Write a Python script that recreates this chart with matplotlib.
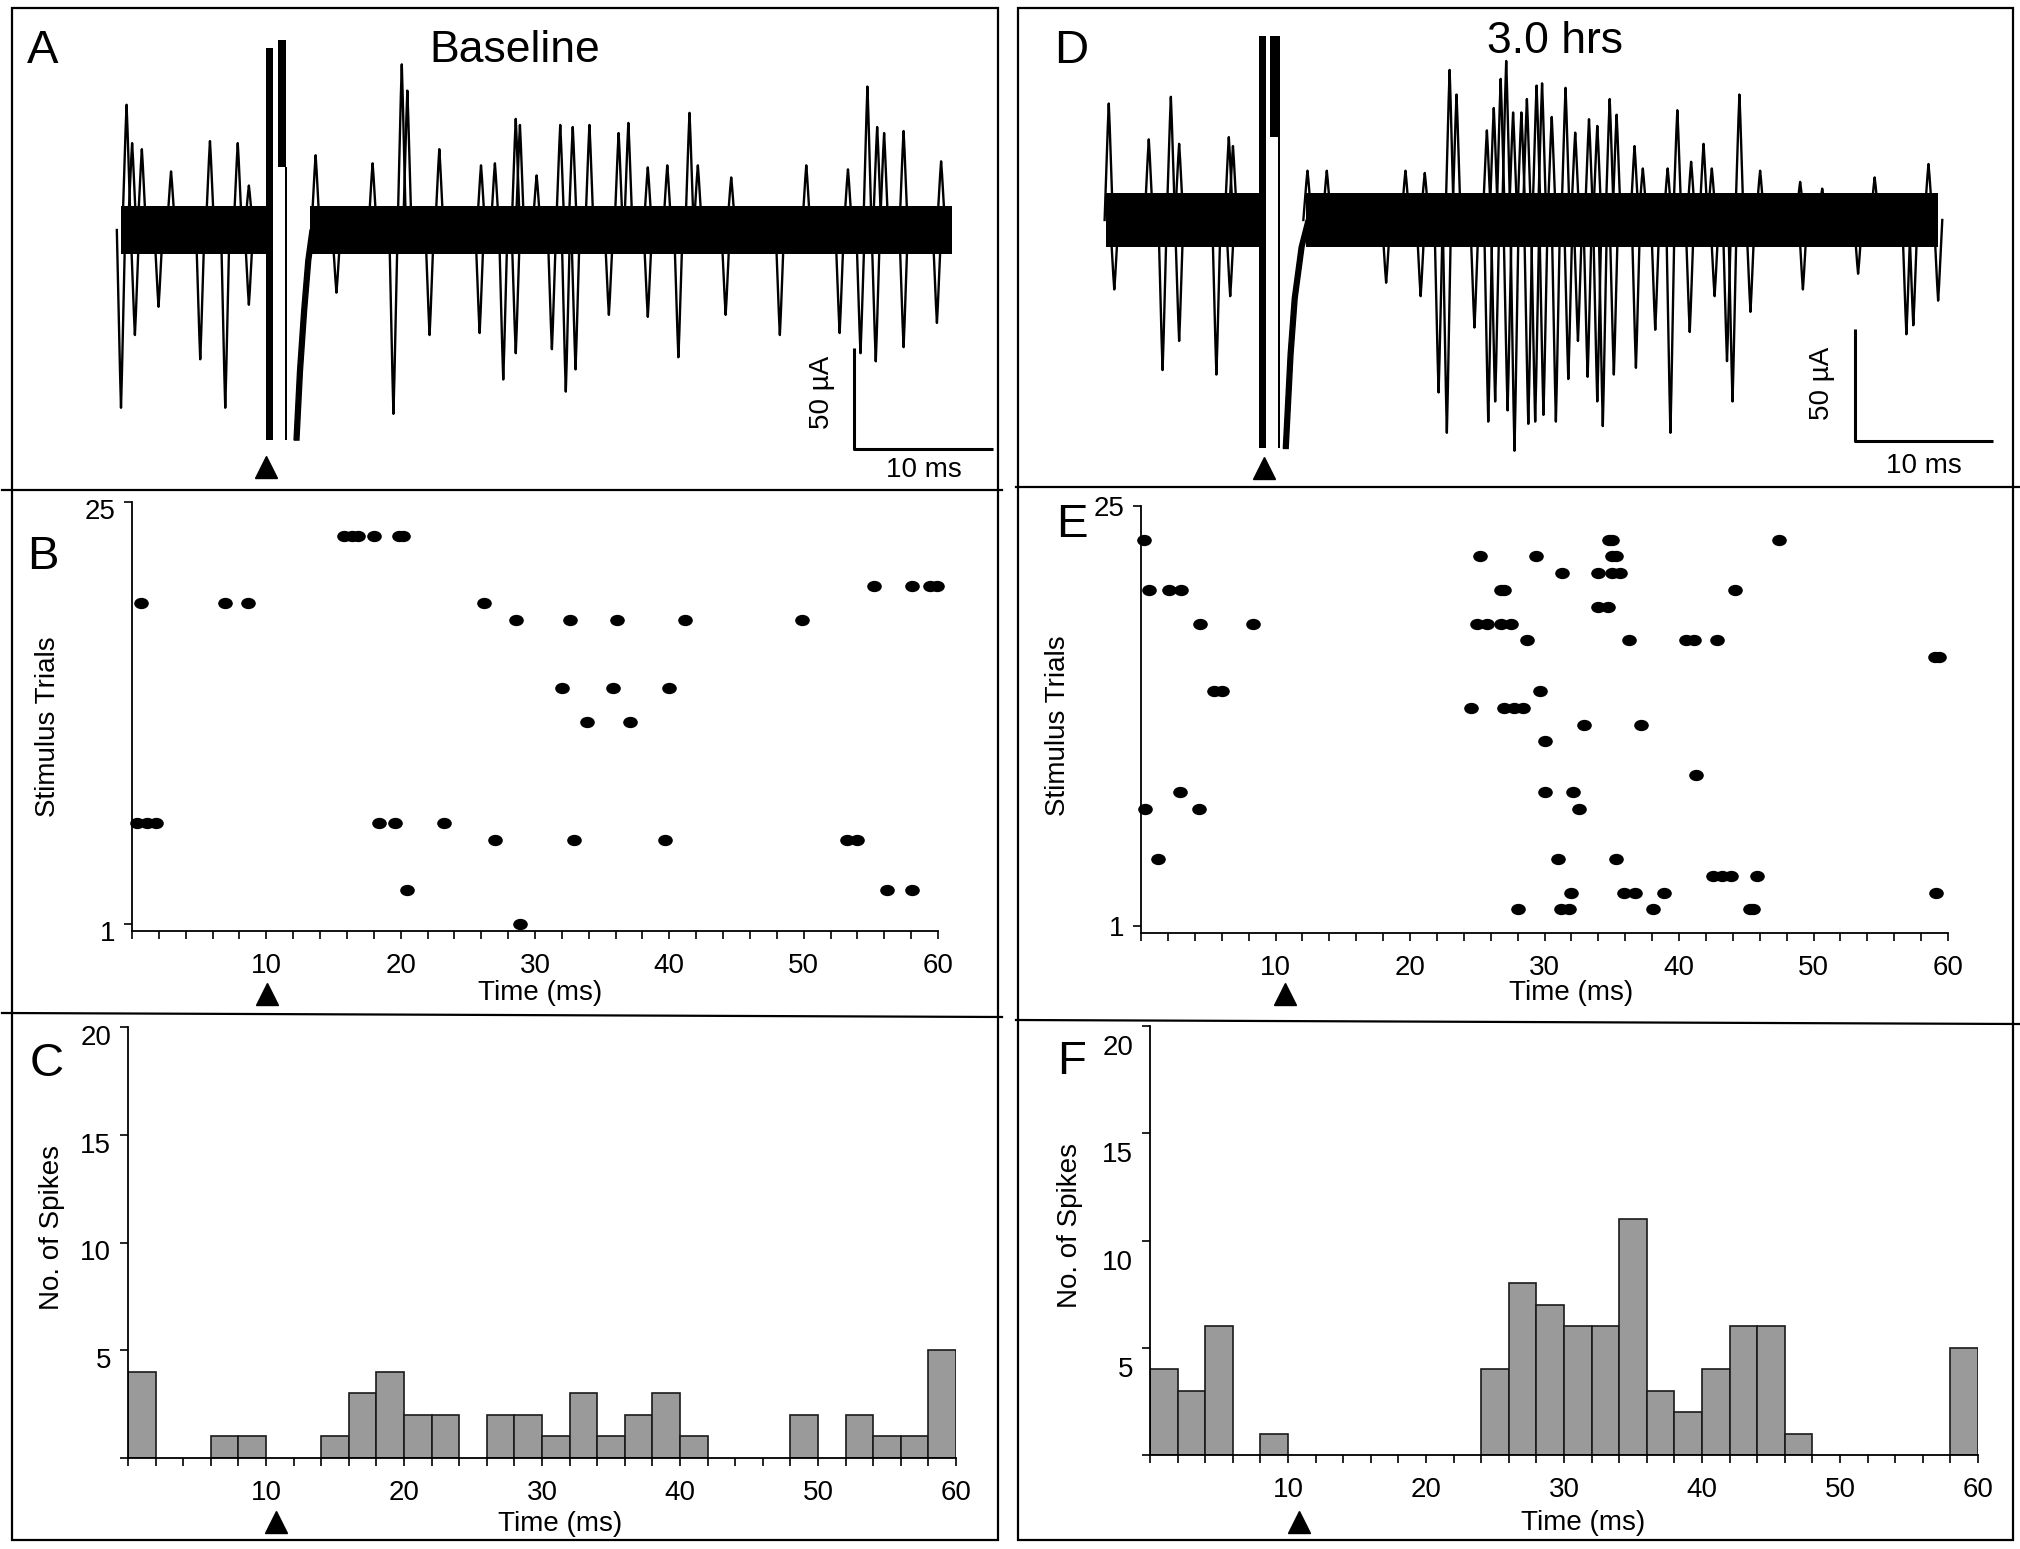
import numpy as np
from matplotlib import pyplot as plt
from matplotlib.path import Path
from matplotlib.transforms import Affine2D, ScaledTranslation
from matplotlib.lines import Line2D
from matplotlib.patches import Rectangle
from matplotlib.ticker import MultipleLocator

plt.rcParams['font.family'] = ['Liberation Sans', 'DejaVu Sans']

##############################
### ----- data (read) ----- ###
##############################

# A : baseline traces, spike peaks  (time ms, amplitude uA)
a_up_t = [0.4, 0.8, 1.5, 3.6, 6.4, 8.4, 9.2, 14.0, 18.1, 20.2, 20.6, 22.9, 25.9, 26.9, 28.4, 28.7,
          29.9, 31.6, 32.5, 33.7, 35.8, 36.5, 37.9, 39.3, 40.9, 41.5, 43.9, 49.3, 52.3, 53.7, 54.4,
          54.9, 56.3, 59.0]
a_up_v = [62, 43, 40, 29, 44, 43, 22, 37, 33, 82, 69, 40, 32, 33, 55, 52,
          27, 52, 51, 52, 48, 53, 31, 32, 58, 32, 26, 32, 30, 71, 51,
          48, 49, 34]
a_dn_t = [0.0, 1.0, 2.7, 5.7, 7.5, 9.2, 15.5, 19.6, 22.2, 25.8, 27.5, 28.4, 31.0, 32.0, 32.7,
          35.1, 37.9, 40.1, 43.5, 47.4, 51.7, 53.2, 54.3, 56.3, 58.7]
a_dn_v = [-88, -52, -38, -64, -88, -37, -31, -91, -52, -51, -74, -61, -59, -80, -69,
          -42, -43, -63, -42, -52, -51, -61, -65, -58, -46]
a_band = [(0.0, 10.45), (13.6, 59.8)]      # spans of the dense baseline noise
a_noise = 12                                # half width of the noise band, uA
a_bars = [(10.45, 10.95, 90, -104), (11.3, 11.9, 94, 31), (11.8, 11.95, 31, -104)]
a_rec_t = [12.45, 12.7, 13.0, 13.3, 13.6]
a_rec_v = [-104, -70, -40, -15, 0]

# D : 3.0 hrs traces
d_up_t = [0.2, 3.1, 4.7, 5.3, 8.9, 9.2, 14.6, 16.0, 21.7, 23.1, 24.9, 25.4, 27.6, 28.1, 28.6, 29.0,
          29.5, 30.1, 30.5, 31.2, 31.6, 32.3, 33.3, 34.0, 35.0, 35.6, 36.5, 37.0, 38.3, 38.9, 40.7,
          41.4, 42.4, 43.3, 43.9, 45.9, 47.4, 50.3, 51.9, 55.7, 59.6]
d_up_v = [52, 36, 55, 34, 37, 33, 22, 22, 22, 21, 67, 56, 40, 50, 63, 71,
          48, 48, 54, 60, 61, 46, 59, 39, 45, 42, 54, 47, 33, 23, 23,
          49, 26, 34, 23, 56, 22, 17, 14, 19, 25]
d_dn_t = [0.6, 4.1, 5.3, 8.0, 9.0, 20.3, 22.8, 24.1, 24.7, 26.7, 27.7, 28.2, 29.1, 29.6, 30.6,
          31.1, 31.7, 32.6, 33.5, 34.2, 34.9, 35.6, 36.0, 36.8, 38.4, 39.8, 40.9, 42.3, 44.1,
          45.0, 45.4, 46.7, 50.5, 54.5, 58.0, 58.5, 60.3]
d_dn_v = [-31, -67, -54, -69, -34, -28, -34, -77, -95, -48, -90, -81, -85, -103, -91,
          -90, -87, -90, -71, -54, -70, -81, -92, -69, -66, -49, -95, -50, -34,
          -63, -81, -41, -31, -24, -51, -47, -36]
d_band = [(0.0, 11.1), (14.5, 60.3)]
d_noise = 12
d_bars = [(11.1, 11.6, 82, -102), (11.9, 12.6, 82, 37), (12.45, 12.6, 37, -102)]
d_rec_t = [12.85, 13.2, 13.5, 14.0, 14.5]
d_rec_v = [-102, -60, -35, -12, 0]

# B : raster, baseline  (row 0 is the tick labelled "1")
b_time = [15.8, 16.4, 16.8, 18.0, 19.9, 20.2,
          55.2, 58.1, 59.4, 59.9,
          0.7, 6.9, 8.6, 26.2,
          28.6, 32.6, 36.1, 41.2, 49.9,
          32.0, 35.8, 40.0,
          33.9, 37.1,
          0.4, 1.1, 1.8, 18.4, 19.6, 23.2,
          27.0, 32.9, 39.7, 53.2, 54.0,
          20.5, 56.2, 58.1,
          28.9]
b_trial = [23] * 6 + [20] * 4 + [19] * 4 + [18] * 5 + [14] * 3 + [12] * 2 + [6] * 6 + [5] * 5 + [2] * 3 + [0]

# E : raster, 3.0 hrs
e_time = [0.2, 34.8, 35.0, 47.4,
          25.2, 29.4, 35.0, 35.3,
          31.3, 34.0, 35.0, 35.6,
          0.6, 2.1, 3.0, 26.8, 27.0, 44.2,
          34.0, 34.7,
          4.4, 8.3, 25.0, 25.7, 26.8, 27.5,
          28.7, 36.3, 40.5, 41.1, 42.8,
          59.0, 59.3,
          5.4, 6.0, 29.7,
          24.5, 27.0, 27.7, 28.4,
          32.9, 37.2,
          30.0,
          41.3,
          2.9, 30.0, 32.1,
          0.3, 4.3, 32.6,
          1.3, 31.0, 35.3,
          42.5, 43.2, 43.9, 45.8,
          32.0, 35.9, 36.7, 38.9, 59.1,
          28.0, 31.2, 31.8, 38.1, 45.3, 45.5]
e_trial = ([23] * 4 + [22] * 4 + [21] * 4 + [20] * 6 + [19] * 2 + [18] * 6 + [17] * 5 + [16] * 2 +
           [14] * 3 + [13] * 4 + [12] * 2 + [11] + [9] + [8] * 3 + [7] * 3 + [4] * 3 + [3] * 4 +
           [2] * 5 + [1] * 6)

# C / F : spike counts, 2 ms bins from 0 to 60 ms
bin_left = list(range(0, 60, 2))
c_count = [4, 0, 0, 1, 1, 0, 0, 1, 3, 4, 2, 2, 0, 2, 2, 1, 3, 1, 2, 3, 1, 0, 0, 0, 2, 0, 2, 1, 1, 5]
f_count = [4, 3, 6, 0, 1, 0, 0, 0, 0, 0, 0, 0, 4, 8, 7, 6, 6, 11, 3, 2, 4, 6, 6, 1, 0, 0, 0, 0, 0, 5]

#############################
### ----- figure ----- ###
#############################
W, H = 2020, 1549
fig = plt.figure(figsize=(W / 100, H / 100), dpi=100)


def px_ax(x0, x1, y0, y1):
    # pixel box (origin top-left) -> axes
    return fig.add_axes([x0 / W, 1 - y1 / H, (x1 - x0) / W, (y1 - y0) / H])


def ftext(x, y, s, **kw):
    fig.text(x / W, 1 - y / H, s, **kw)


def fline(xs, ys, lw=1.6):
    fig.add_artist(Line2D([x / W for x in xs], [1 - y / H for y in ys], lw=lw, color='k'))


#----- frames -----#
for x0, x1 in [(12, 998), (1018, 2013)]:
    fig.add_artist(Rectangle((x0 / W, 1 - 1540 / H), (x1 - x0) / W, (1540 - 8) / H,
                             transform=fig.transFigure, fill=False, lw=1.6, ec='k'))
fline([2, 1002], [490, 490])
fline([2, 1002], [1013, 1017])
fline([1016, 2020], [487, 487])
fline([1016, 2020], [1020, 1024])


#----- traces -----#
def trace_panel(box, t0px, ppms, basepx, ppua, up_t, up_v, dn_t, dn_v, band, noise, bars, rec_t, rec_v,
                arrow_t, arrow_y, sb_t, sb_v):
    x0, x1, y0, y1 = box
    ax = px_ax(x0, x1, y0, y1)
    ax.set_xlim((x0 - t0px) / ppms, (x1 - t0px) / ppms)
    ax.set_ylim((basepx - y1) / ppua, (basepx - y0) / ppua)
    ax.axis('off')
    for s, e in band:
        ax.fill_between([s, e], [-noise, -noise], [noise, noise], color='k', lw=0)
    hw = 0.3
    for t, v in zip(up_t + dn_t, up_v + dn_v):
        ax.plot([t - hw, t - 0.07, t, t + 0.07, t + hw], [0, v * 0.8, v, v * 0.8, 0],
                color='k', lw=1.7)
    for l, r, top, bot in bars:
        ax.fill_between([l, r], [bot, bot], [top, top], color='k', lw=0)
    ax.fill(rec_t + [t + 0.35 for t in rec_t[::-1]], rec_v + rec_v[::-1], color='k', lw=1)
    ax.plot([arrow_t], [arrow_y], marker='^', ms=16, color='k', clip_on=False)
    ax.plot([sb_t, sb_t, sb_t + 10], [sb_v + 50, sb_v, sb_v], color='k', lw=2.2, solid_capstyle='butt')
    return ax


trace_panel((100, 1000, 15, 480), 121, 13.9, 230, 2.02, a_up_t, a_up_v, a_dn_t, a_dn_v,
            a_band, a_noise, a_bars, a_rec_t, a_rec_v, 10.4, -117.3, 52.73, -108.4)
trace_panel((1060, 2010, 15, 480), 1106, 13.8, 220, 2.24, d_up_t, d_up_v, d_dn_t, d_dn_v,
            d_band, d_noise, d_bars, d_rec_t, d_rec_v, 11.45, -110.7, 54.28, -98.7)

ftext(515, 62, 'Baseline', fontsize=32, ha='center', va='baseline')
ftext(1555, 53, '3.0 hrs', fontsize=32, ha='center', va='baseline')
ftext(924, 477, '10 ms', fontsize=20, ha='center', va='baseline')
ftext(1924, 473, '10 ms', fontsize=20, ha='center', va='baseline')
ftext(822, 392, '50 \u00b5A', fontsize=20, ha='center', va='center', rotation=90)
ftext(1822, 383, '50 \u00b5A', fontsize=20, ha='center', va='center', rotation=90)


#----- raster / histogram axes style -----#
def style_axes(ax, ylab_shift):
    for s in ['top', 'right']:
        ax.spines[s].set_visible(False)
    for s in ['left', 'bottom']:
        ax.spines[s].set_linewidth(1.3)
    ax.set_xlim(0, 60)
    ax.set_xticks([10, 20, 30, 40, 50, 60])
    ax.xaxis.set_minor_locator(MultipleLocator(2))
    ax.tick_params(axis='x', which='both', direction='out', length=6, width=1.2, pad=10, labelsize=20)
    ax.tick_params(axis='y', which='both', direction='out', length=6, width=1.2, pad=6, labelsize=20)
    for lab in ax.get_yticklabels():
        lab.set_transform(lab.get_transform() + ScaledTranslation(0, -ylab_shift / 100, fig.dpi_scale_trans))


dot = Path.unit_circle().transformed(Affine2D().scale(1.0, 0.75))

for box, times, trials, shift, arrow_t in [((132, 938, 502, 931), b_time, b_trial, 7, 10.05),
                                            ((1141, 1948, 506, 933), e_time, e_trial, 0, 10.7)]:
    ax = px_ax(*box)
    ax.plot(times, trials, ls='none', marker=dot, ms=9.5, color='k', clip_on=False)
    ax.set_ylim(-0.4, 25)
    ax.set_yticks([0, 25])
    ax.set_yticklabels(['1', '25'])
    style_axes(ax, shift)
    yfrac = (box[3] - 994) / (box[3] - box[2])
    ax.plot([arrow_t], [yfrac], marker='^', ms=16, color='k', clip_on=False,
            transform=ax.get_xaxis_transform())

for box, counts, shift, arrow_t in [((128, 956, 1027, 1458), c_count, 8, 10.7),
                                     ((1150, 1978, 1026, 1455), f_count, 19, 10.8)]:
    ax = px_ax(*box)
    lefts = [b for b, c in zip(bin_left, counts) if c > 0]
    hts = [c for c in counts if c > 0]
    ax.bar(lefts, hts, width=2, align='edge', color='#9a9a9a', edgecolor='#1a1a1a', lw=1.2)
    ax.set_ylim(0, 20)
    ax.set_yticks([0, 5, 10, 15, 20])
    ax.set_yticklabels(['', '5', '10', '15', '20'])
    style_axes(ax, shift)
    yfrac = (box[3] - 1522) / (box[3] - box[2])
    ax.plot([arrow_t], [yfrac], marker='^', ms=16, color='k', clip_on=False,
            transform=ax.get_xaxis_transform())

#----- axis titles -----#
ftext(540, 993, 'Time (ms)', fontsize=20, ha='center', va='center')
ftext(1571, 993, 'Time (ms)', fontsize=20, ha='center', va='center')
ftext(560, 1524, 'Time (ms)', fontsize=20, ha='center', va='center')
ftext(1583, 1523, 'Time (ms)', fontsize=20, ha='center', va='center')
ftext(48, 727, 'Stimulus Trials', fontsize=20, ha='center', va='center', rotation=90)
ftext(1058, 726, 'Stimulus Trials', fontsize=20, ha='center', va='center', rotation=90)
ftext(52, 1228, 'No. of Spikes', fontsize=20, ha='center', va='center', rotation=90)
ftext(1070, 1226, 'No. of Spikes', fontsize=20, ha='center', va='center', rotation=90)

#----- panel letters -----#
for x, y, s in [(43, 63, 'A'), (43, 569, 'B'), (47, 1076, 'C'),
                (1071, 63, 'D'), (1072, 537, 'E'), (1072, 1074, 'F')]:
    ftext(x, y, s, fontsize=34, ha='center', va='baseline')

plt.savefig('out.png', dpi=100)
